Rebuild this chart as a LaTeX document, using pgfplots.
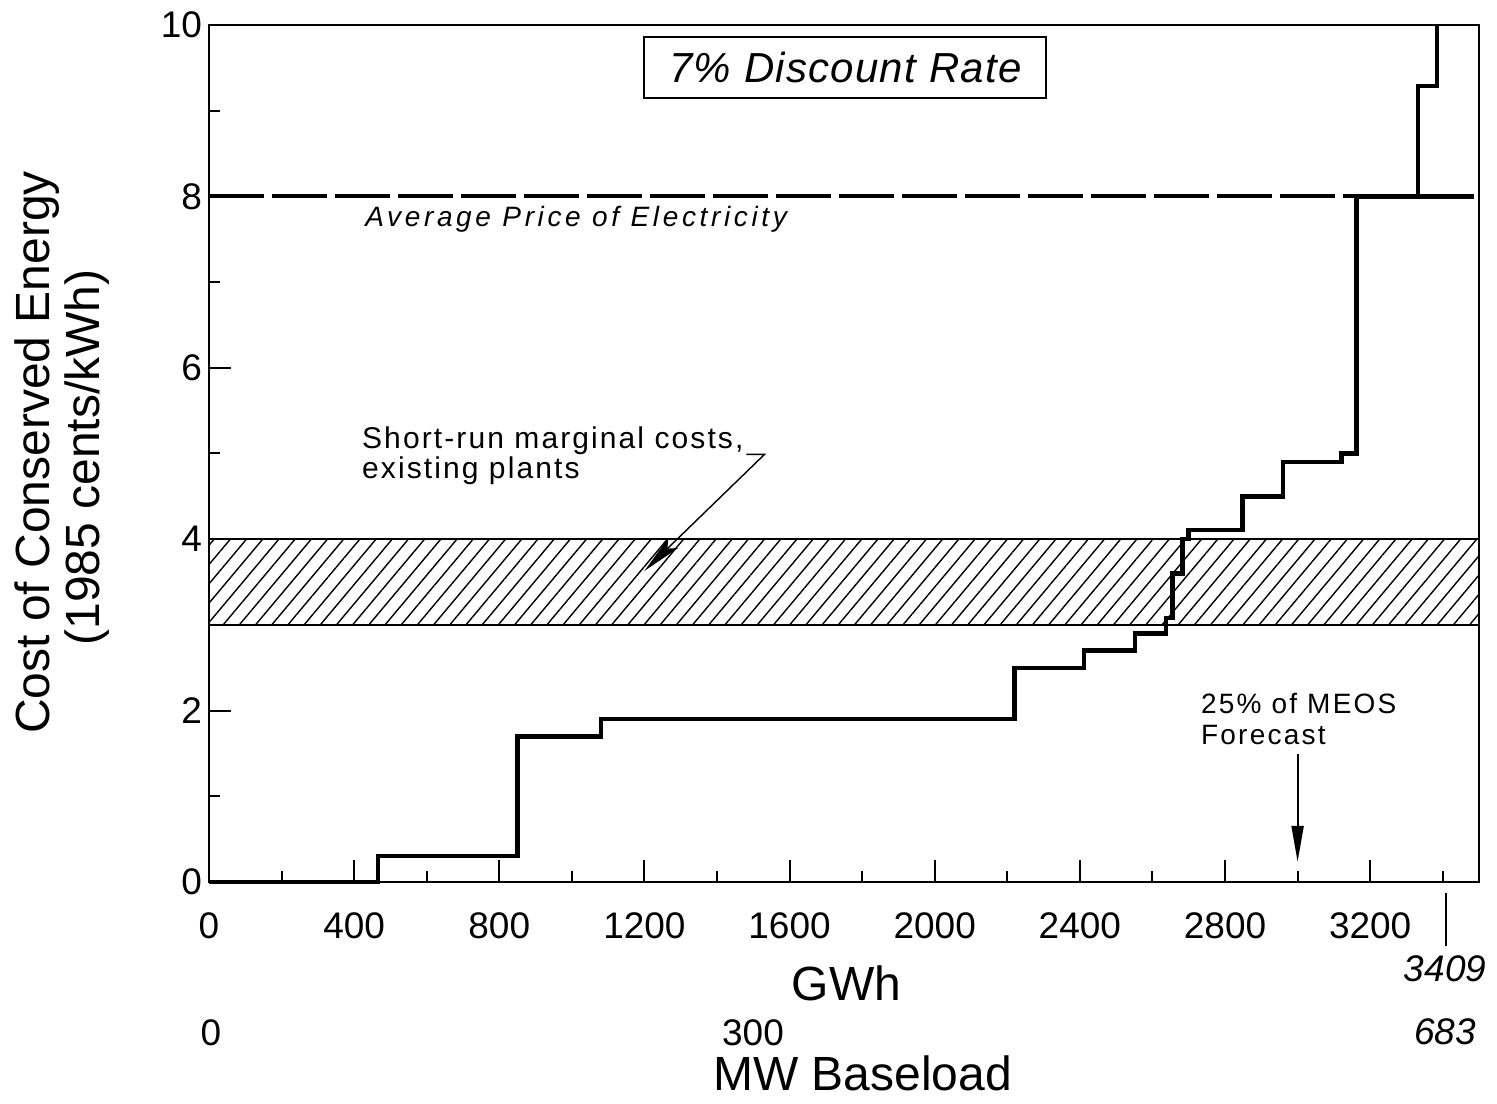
\documentclass[border=0pt]{standalone}
\usepackage{fontspec}
\setmainfont{Liberation Sans}
\usepackage{pgfplots}
\pgfplotsset{compat=1.18}
\usetikzlibrary{patterns.meta,arrows.meta}

\begin{document}
\begin{tikzpicture}
\useasboundingbox (-104.5pt,-110.5pt) rectangle (644pt,441pt);
\begin{axis}[
    scale only axis,
    width=635pt, height=428.5pt,
    xmin=0, xmax=3500, ymin=0, ymax=10,
    axis line style={line width=1.3pt},
    xtick={0,400,...,3200},
    minor xtick={200,600,...,3400},
    ytick={0,2,...,10},
    minor ytick={1,3,...,9},
    tick align=inside,
    tick pos=left,
    major tick length=11pt, minor tick length=5.5pt,
    tick style={line width=1pt, black},
    ticklabel style={font=\fontsize{18.5}{20}\selectfont},
    /pgf/number format/assume math mode=true,
    /pgf/number format/set thousands separator={},
    xticklabel style={yshift=-12pt},
    clip=false,
]
% short-run marginal cost band
\addplot[draw=none, pattern={Lines[angle=50,distance=6.2pt,line width=0.7pt]}]
    coordinates {(0,3) (3500,3) (3500,4) (0,4)} -- cycle;
\addplot[line width=0.9pt] coordinates {(0,3) (3500,3)};
\addplot[line width=0.9pt] coordinates {(0,4) (3500,4)};

% average price of electricity
\addplot[line width=2pt, dash pattern=on 27.5pt off 4pt] coordinates {(0,8) (3485,8)};

% conservation supply curve
\addplot[const plot, line width=2.2pt] coordinates {
    (0,0) (465,0.3) (850,1.7) (1080,1.9) (2220,2.5) (2412,2.7) (2552,2.9)
    (2637,3.08) (2655,3.6) (2683,4.0) (2699,4.11) (2848,4.5) (2960,4.9)
    (3121,5.0) (3162,8.0) (3332,9.29) (3385,10.0)
};
\addplot[line width=2.2pt] coordinates {(3162,8) (3485,8)};

\node[draw, line width=1pt, minimum width=201pt, minimum height=30.5pt,
      font=\fontsize{21}{24}\selectfont\itshape\addfontfeature{LetterSpace=3}]
    at (axis cs:1754,9.5) {7\% Discount Rate};
\node[anchor=base west, inner sep=0pt,
      font=\fontsize{14}{16}\selectfont\itshape\addfontfeature{LetterSpace=13}]
    at (axis cs:430,7.65) {Average Price of Electricity};
\node[anchor=base west, inner sep=0pt,
      font=\fontsize{15}{17}\selectfont\addfontfeature{LetterSpace=7}]
    at (axis cs:421,5.06) {Short-run marginal costs,};
\node[anchor=base west, inner sep=0pt,
      font=\fontsize{15}{17}\selectfont\addfontfeature{LetterSpace=7}]
    at (axis cs:421,4.71) {existing plants};
\draw[line width=0.7pt, -{Stealth[length=20pt,width=7pt,inset=4pt]}]
    (axis cs:1481,4.99) -- (axis cs:1531,4.99) -- (axis cs:1200,3.63);

\node[anchor=base west, inner sep=0pt,
      font=\fontsize{14}{16}\selectfont\addfontfeature{LetterSpace=8}]
    at (axis cs:2733,1.968) {25\% of MEOS};
\node[anchor=base west, inner sep=0pt,
      font=\fontsize{14}{16}\selectfont\addfontfeature{LetterSpace=8}]
    at (axis cs:2733,1.61) {Forecast};
\draw[line width=1pt, -{Triangle[length=18pt,width=6pt]}]
    (axis cs:3000,1.49) -- (axis cs:3000,0.235);
\end{axis}

% labels below and left of the axis
\node[anchor=base, inner sep=0pt, font=\fontsize{24}{28}\selectfont] at (318.75pt,-59pt) {GWh};
\node[anchor=base, inner sep=0pt, font=\fontsize{24}{28}\selectfont] at (326.75pt,-104pt) {MW Baseload};
\node[anchor=base, inner sep=0pt, font=\fontsize{18.5}{20}\selectfont] at (1pt,-81.5pt) {0};
\node[anchor=base, inner sep=0pt, font=\fontsize{18.5}{20}\selectfont] at (272pt,-81.5pt) {300};
\node[anchor=base, inner sep=0pt, font=\fontsize{18.5}{20}\selectfont\itshape] at (618pt,-49.5pt) {3409};
\node[anchor=base, inner sep=0pt, font=\fontsize{18.5}{20}\selectfont\itshape] at (618pt,-81pt) {683};
\draw[line width=1pt] (618.5pt,-5.5pt) -- (618.5pt,-32pt);

\node[rotate=90, anchor=base, inner sep=0pt, font=\fontsize{24}{28}\selectfont]
    at (-79.5pt,214.75pt) {Cost of Conserved Energy};
\node[rotate=90, anchor=base, inner sep=0pt, font=\fontsize{24}{28}\selectfont]
    at (-54.5pt,212.25pt) {(1985 cents/kWh)};
\end{tikzpicture}
\end{document}
